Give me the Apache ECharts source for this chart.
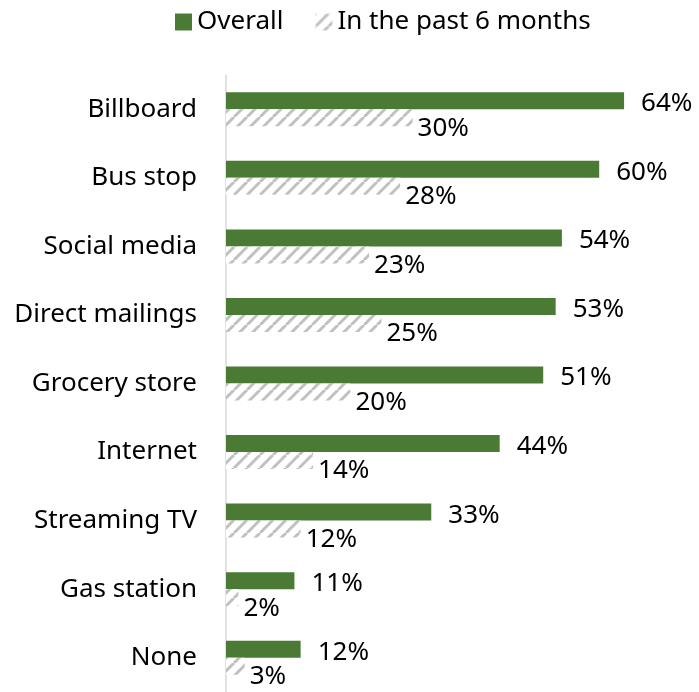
<!DOCTYPE html>
<html><head><meta charset="utf-8">
<script src="https://cdn.jsdelivr.net/npm/echarts@6/dist/echarts.min.js"></script>
<style>html,body{margin:0;padding:0;background:#fff}#c{width:699px;height:692px}</style>
</head><body><div id="c"></div>
<script>
const categories = ["Billboard","Bus stop","Social media","Direct mailings","Grocery store","Internet","Streaming TV","Gas station","None"];
const overall = [64,60,54,53,51,44,33,11,12];
const past6 = [30,28,23,25,20,14,12,2,3];
const seriesNames = ["Overall","In the past 6 months"];

const pc = document.createElement('canvas');
pc.width = 13; pc.height = 13;
const g = pc.getContext('2d');
g.fillStyle = '#fff'; g.fillRect(0,0,13,13);
g.strokeStyle = '#c0c0c0'; g.lineWidth = 3;
for (let k = -13; k <= 26; k += 13) { g.beginPath(); g.moveTo(k, 13); g.lineTo(k + 13, 0); g.stroke(); }
const hatch = {image: pc, repeat: 'repeat'};

const font = '"Noto Sans", sans-serif';
const chart = echarts.init(document.getElementById('c'), null, {renderer: 'canvas'});
chart.setOption({
  animation: false,
  textStyle: {fontFamily: font},
  legend: {
    data: seriesNames, left: 170, top: 4, itemWidth: 17, itemHeight: 17, itemGap: 32, icon: 'rect',
    textStyle: {fontSize: 26, color: '#000', fontFamily: font}
  },
  grid: {left: 226, top: 75, height: 621, width: 435.4, containLabel: false},
  xAxis: {type: 'value', min: 0, max: 70, show: false},
  yAxis: {
    type: 'category', data: categories, inverse: true,
    axisLine: {show: true, lineStyle: {color: '#d9d9d9', width: 1.5}},
    axisTick: {show: false},
    axisLabel: {fontSize: 26, color: '#000', margin: 29, fontFamily: font, padding: [3, 0, 0, 0]}
  },
  series: [
    {name: seriesNames[0], type: 'bar', data: overall, barWidth: 17, barGap: '0%',
     itemStyle: {color: '#4a7a34'},
     label: {show: true, position: 'right', distance: 17, offset: [0, 3], formatter: '{c}%', fontSize: 26, color: '#000', fontFamily: font}},
    {name: seriesNames[1], type: 'bar', data: past6, barWidth: 17, barGap: '0%',
     itemStyle: {color: hatch},
     label: {show: true, position: 'right', distance: 5, offset: [0, 10.5], formatter: '{c}%', fontSize: 26, color: '#000', fontFamily: font}}
  ]
});
</script></body></html>
